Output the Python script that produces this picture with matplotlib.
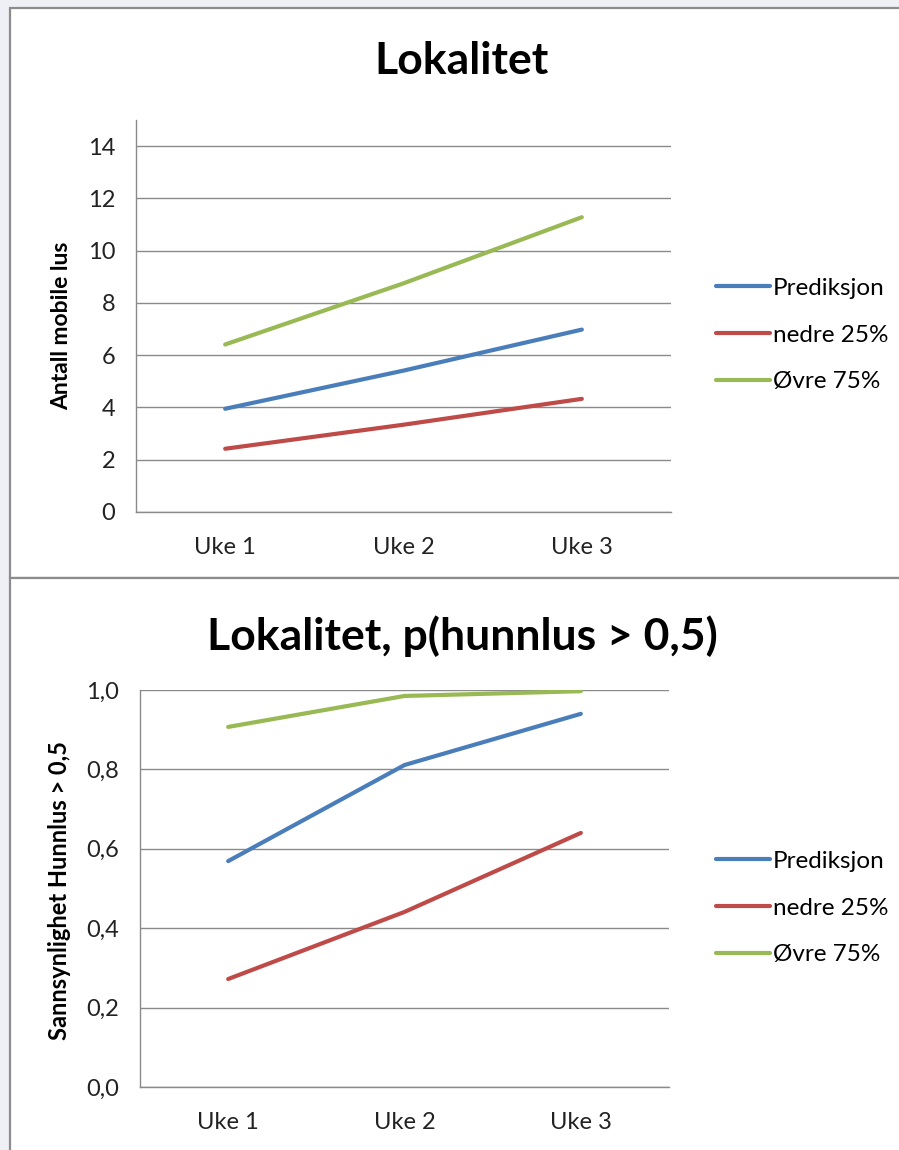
import matplotlib
matplotlib.use("Agg")
import matplotlib.pyplot as plt
from matplotlib.patches import Rectangle

plt.rcParams['font.family'] = ['Lato', 'DejaVu Sans']

categories = ["Uke 1", "Uke 2", "Uke 3"]
series_names = ["Prediksjon", "nedre 25%", "Øvre 75%"]

# Top chart: Antall mobile lus
top_pred = [3.95, 5.41, 6.98]
top_low = [2.42, 3.34, 4.33]
top_high = [6.41, 8.75, 11.28]
top_ticks = [0, 2, 4, 6, 8, 10, 12, 14]
top_ticklabels = ["0", "2", "4", "6", "8", "10", "12", "14"]

# Bottom chart: p(hunnlus > 0,5)
bot_pred = [0.569, 0.811, 0.940]
bot_low = [0.272, 0.441, 0.640]
bot_high = [0.907, 0.985, 0.997]
bot_ticks = [0.0, 0.2, 0.4, 0.6, 0.8, 1.0]
bot_ticklabels = ["0,0", "0,2", "0,4", "0,6", "0,8", "1,0"]

colors = ["#4a7ebb", "#be4b48", "#98b954"]

W, H = 899, 1150
fig = plt.figure(figsize=(W / 100, H / 100), dpi=100)
fig.patch.set_facecolor("#eef0f5")

def fx(px):
    return px / W

def fy(py):
    return 1 - py / H

# chart area boxes
for (x0, y0, x1, y1) in [(10, 8, 920, 578), (10, 578, 920, 1160)]:
    fig.patches.append(Rectangle((fx(x0), fy(y1)), fx(x1 - x0), (y1 - y0) / H,
                                 transform=fig.transFigure, facecolor="white",
                                 edgecolor="#8c8c8c", linewidth=1.6, zorder=-5))

def make_axes(l, r, t, b):
    ax = fig.add_axes([fx(l), fy(b), fx(r - l), (b - t) / H])
    ax.set_zorder(2)
    return ax

grid_c = "#8a8a8a"
tick_fs = 17
leg_fs = 17.5
lw = 3.0

def style(ax, ticks, labels, ylim):
    ax.set_xlim(0, 3)
    ax.set_ylim(*ylim)
    ax.set_yticks(ticks)
    ax.set_yticklabels(labels)
    ax.set_xticks([0.5, 1.5, 2.5])
    ax.set_xticklabels(categories)
    for s in ["top", "right"]:
        ax.spines[s].set_visible(False)
    for s in ["left", "bottom"]:
        ax.spines[s].set_color(grid_c)
        ax.spines[s].set_linewidth(1.0)
    ax.yaxis.grid(True, color=grid_c, linewidth=1.0)
    ax.set_axisbelow(True)
    ax.tick_params(axis="y", length=0, pad=15, labelsize=tick_fs, colors="#222222")
    ax.tick_params(axis="x", length=0, pad=18, labelsize=tick_fs, colors="#222222")
    ax.set_facecolor("none")

def add_legend(ax, ycenter):
    ax.legend(loc="center left", bbox_to_anchor=(fx(704), fy(ycenter)),
              bbox_transform=fig.transFigure, frameon=False, fontsize=leg_fs,
              handlelength=2.2, handletextpad=0.12, labelspacing=1.05,
              borderpad=0)

x = [0.5, 1.5, 2.5]

# Top chart
ax1 = make_axes(136, 671, 120, 512)
for vals, c, n in zip([top_pred, top_low, top_high], colors, series_names):
    ax1.plot(x, vals, color=c, linewidth=lw, solid_capstyle="round", label=n)
style(ax1, top_ticks, top_ticklabels, (0, 15))
fig.text(fx(462), fy(61), "Lokalitet", ha="center", va="center",
         fontsize=32, fontweight="bold")
fig.text(fx(62), fy(326), "Antall mobile lus", ha="center", va="center",
         rotation=90, fontsize=16.5, fontweight="bold")
add_legend(ax1, 335)

# Bottom chart
ax2 = make_axes(140, 669, 690, 1087)
for vals, c, n in zip([bot_pred, bot_low, bot_high], colors, series_names):
    ax2.plot(x, vals, color=c, linewidth=lw, solid_capstyle="round", label=n)
style(ax2, bot_ticks, bot_ticklabels, (0, 1.0))
fig.text(fx(462), fy(636), "Lokalitet, p(hunnlus > 0,5)", ha="center", va="center",
         fontsize=32, fontweight="bold")
fig.text(fx(60), fy(890), "Sannsynlighet Hunnlus > 0,5", ha="center", va="center",
         rotation=90, fontsize=17, fontweight="bold")
add_legend(ax2, 908)

fig.savefig("out.png", dpi=100, facecolor=fig.get_facecolor())
